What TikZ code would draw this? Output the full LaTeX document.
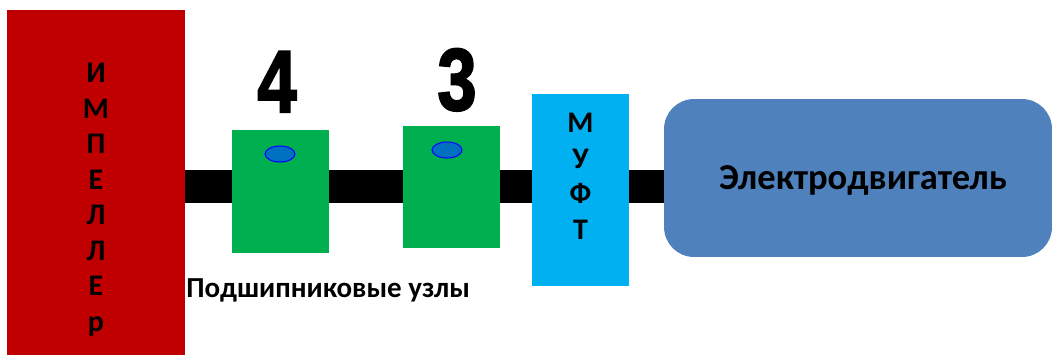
\documentclass[tikz,border=0pt]{standalone}
\usepackage{fontspec}
\setmainfont{Carlito}
\newfontfamily\digitfont[BoldFeatures={FakeBold=2.5}]{Liberation Sans}
\usetikzlibrary{shapes.geometric}

\definecolor{impred}{HTML}{C00000}
\definecolor{bearing}{HTML}{00B050}
\definecolor{coupling}{HTML}{00B0F0}
\definecolor{motorblue}{HTML}{4F81BD}
\definecolor{oilblue}{HTML}{0070C0}

\tikzset{
  block/.style={rectangle,inner sep=0pt},
  vtext/.style={align=center,inner sep=0pt,font=\bfseries\fontsize{17}{20.2}\selectfont},
  shaft/.style={line width=0.66cm},
  oil/.style={ellipse,draw=blue,fill=oilblue,line width=0.6pt,minimum width=0.6cm,minimum height=0.32cm,inner sep=0pt},
  number/.style={inner sep=0pt,anchor=base,xscale=0.8,font=\digitfont\bfseries\fontsize{50}{50}\selectfont}
}

\begin{document}
\begin{tikzpicture}[x=0.02cm,y=-0.02cm]
  \useasboundingbox (0,0) rectangle (1053,356);

  \coordinate (axis) at (0,186.5);

  \node[block,fill=impred,minimum width=3.56cm,minimum height=6.9cm] (imp) at (96,182.5) {};
  \node[block,fill=motorblue,rounded corners=0.6cm,minimum width=7.76cm,minimum height=3.16cm] (motor) at (858,178) {};

  \draw[shaft] (imp.east |- axis) -- (motor.west |- axis);

  \node[block,fill=bearing,minimum width=1.94cm,minimum height=2.46cm] (b4) at (280.5,191.5) {};
  \node[block,fill=bearing,minimum width=1.94cm,minimum height=2.44cm] (b3) at (451.5,187) {};
  \node[block,fill=coupling,minimum width=1.94cm,minimum height=3.84cm] (muft) at (580.5,190) {};

  \node[oil] (oil4) at (280,154) {};
  \node[oil] (oil3) at (447,150) {};

  \node[vtext] (impname) at ([yshift=-0.34cm]imp.center) {И\\М\\П\\Е\\Л\\Л\\Е\\р};
  \node[vtext] (muftname) at ([yshift=0.27cm]muft.center) {М\\У\\Ф\\Т};
  \node[inner sep=0pt,font=\bfseries\fontsize{20.8}{24}\selectfont] (motorname) at (863,180) {Электродвигатель};

  \node[number] (n4) at (277,112) {4};
  \node[number] (n3) at (457,110) {3};

  \node[inner sep=0pt,anchor=base west,font=\bfseries\fontsize{16.5}{18}\selectfont] (bearings) at (186,297) {Подшипниковые узлы};
\end{tikzpicture}
\end{document}
